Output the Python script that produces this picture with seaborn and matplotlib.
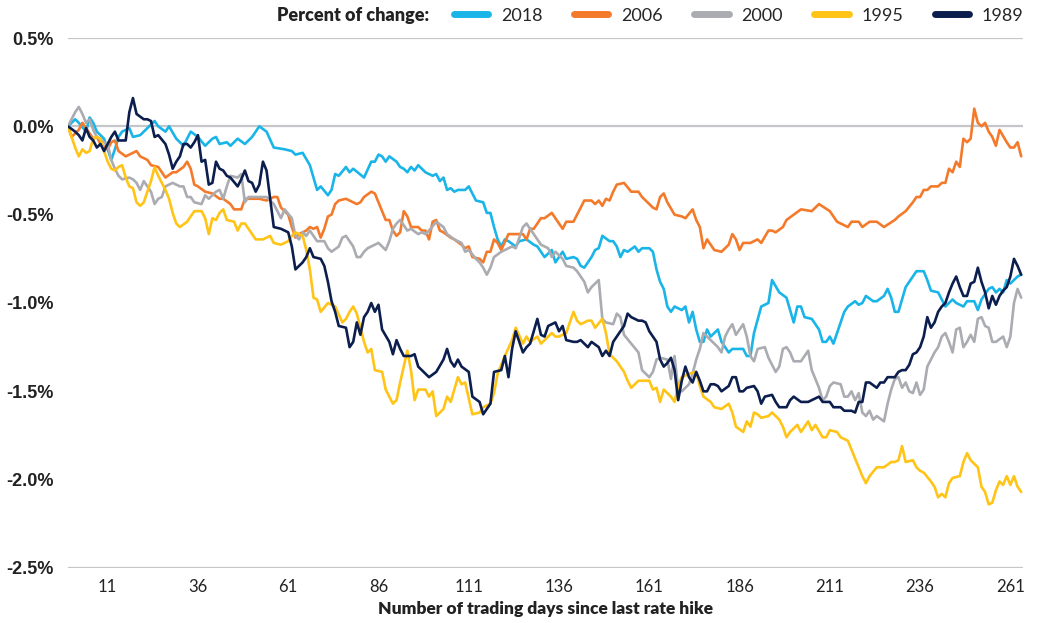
import numpy as np
import pandas as pd
from matplotlib import pyplot as plt
from matplotlib.lines import Line2D
from matplotlib.ticker import FuncFormatter
import seaborn as sns


"""Values read off the reference chart: trading day -> percent change"""
days_2018 = [0, 2, 3, 5, 6, 7, 8, 10, 12, 13, 14, 15, 17, 18, 20, 22, 24, 25, 27, 28, 30, 32, 34, 36, 38,
             40, 41, 42, 44, 45, 47, 49, 51, 53, 55, 57, 60, 62, 63, 65, 67, 69, 70, 72, 73, 74, 75, 77, 78,
             79, 82, 84, 85, 86, 87, 88, 89, 91, 92, 93, 94, 95, 96, 97, 99, 101, 102, 103, 104, 105, 106,
             107, 108, 110, 111, 113, 115, 116, 117, 118, 119, 120, 121, 122, 124, 125, 127, 129, 130, 132,
             134, 135, 136, 137, 138, 140, 141, 142, 143, 145, 146, 147, 148, 150, 151, 152, 153, 154, 155,
             157, 158, 159, 161, 162, 163, 164, 165, 166, 167, 168, 170, 171, 172, 173, 174, 175, 176, 177,
             178, 180, 181, 183, 184, 185, 187, 188, 189, 190, 192, 194, 195, 197, 199, 200, 201, 202, 203,
             204, 206, 208, 209, 210, 211, 212, 213, 215, 216, 218, 219, 220, 221, 223, 224, 226, 227, 228,
             229, 230, 231, 232, 234, 235, 237, 238, 239, 241, 242, 243, 245, 246, 248, 249, 251, 252, 253,
             255, 256, 257, 258, 259, 260, 261, 262, 263, 264]
vals_2018 = [0.00, 0.04, 0.02, -0.03, 0.05, 0.02, -0.03, -0.07, -0.19, -0.13, -0.06, -0.03, -0.01, -0.06,
             -0.05, -0.01, 0.03, 0.00, -0.03, 0.00, -0.07, -0.11, -0.03, -0.06, -0.11, -0.07, -0.06, -0.10,
             -0.09, -0.11, -0.07, -0.10, -0.06, 0.00, -0.03, -0.12, -0.13, -0.14, -0.16, -0.15, -0.22, -0.36,
             -0.34, -0.39, -0.36, -0.27, -0.28, -0.23, -0.26, -0.24, -0.29, -0.20, -0.20, -0.16, -0.17, -0.20,
             -0.17, -0.20, -0.23, -0.24, -0.26, -0.23, -0.25, -0.22, -0.26, -0.28, -0.27, -0.31, -0.29, -0.36,
             -0.35, -0.37, -0.36, -0.36, -0.34, -0.42, -0.43, -0.49, -0.49, -0.57, -0.64, -0.68, -0.64, -0.65,
             -0.68, -0.65, -0.64, -0.67, -0.68, -0.74, -0.70, -0.77, -0.74, -0.71, -0.75, -0.74, -0.75, -0.79,
             -0.80, -0.74, -0.70, -0.69, -0.62, -0.65, -0.65, -0.68, -0.74, -0.70, -0.71, -0.68, -0.71, -0.69,
             -0.69, -0.71, -0.81, -0.88, -0.92, -1.02, -1.05, -1.02, -1.04, -1.02, -1.11, -1.05, -1.15, -1.22,
             -1.22, -1.15, -1.19, -1.15, -1.22, -1.28, -1.26, -1.26, -1.26, -1.30, -1.30, -1.17, -1.02, -1.00,
             -0.87, -0.94, -0.97, -1.04, -1.11, -1.02, -1.02, -1.08, -1.09, -1.15, -1.22, -1.22, -1.19, -1.23,
             -1.17, -1.05, -1.02, -0.99, -1.01, -1.00, -0.96, -0.99, -0.99, -0.96, -0.92, -0.97, -1.05, -1.05,
             -0.98, -0.91, -0.85, -0.82, -0.82, -0.87, -0.93, -0.94, -0.98, -1.02, -0.98, -1.00, -1.02, -0.99,
             -0.99, -1.04, -0.98, -0.92, -0.91, -0.94, -0.92, -0.94, -0.87, -0.89, -0.87, -0.85, -0.84]

days_2006 = [0, 1, 3, 4, 5, 7, 8, 9, 11, 12, 13, 14, 16, 18, 19, 20, 22, 23, 25, 26, 27, 29, 30, 32, 33,
             34, 35, 36, 38, 40, 42, 43, 45, 46, 48, 49, 51, 53, 55, 57, 58, 59, 61, 62, 63, 64, 66, 67, 68,
             69, 70, 71, 72, 73, 74, 75, 77, 78, 80, 81, 82, 84, 85, 86, 87, 88, 89, 90, 91, 92, 93, 94, 95,
             97, 98, 99, 100, 101, 102, 103, 104, 106, 107, 109, 110, 111, 112, 114, 115, 116, 117, 118, 119,
             120, 122, 123, 124, 126, 127, 128, 129, 131, 132, 134, 135, 137, 138, 140, 141, 143, 145, 146,
             147, 148, 149, 150, 151, 152, 154, 156, 158, 159, 160, 162, 163, 164, 165, 166, 168, 170, 171,
             173, 174, 175, 176, 177, 178, 179, 181, 183, 184, 185, 186, 187, 189, 191, 192, 194, 195, 196,
             198, 199, 201, 203, 206, 208, 211, 213, 216, 217, 219, 220, 222, 224, 226, 229, 230, 232, 234,
             235, 236, 237, 238, 239, 241, 242, 243, 244, 245, 246, 247, 248, 249, 250, 251, 252, 253, 254,
             255, 256, 257, 258, 260, 261, 262, 263, 264]
vals_2006 = [0.00, -0.06, -0.02, 0.02, -0.01, -0.07, -0.06, -0.10, -0.13, -0.09, -0.08, -0.14, -0.17, -0.15,
             -0.14, -0.17, -0.19, -0.22, -0.23, -0.26, -0.29, -0.26, -0.26, -0.23, -0.20, -0.24, -0.33, -0.34,
             -0.37, -0.38, -0.41, -0.41, -0.44, -0.47, -0.47, -0.41, -0.41, -0.41, -0.42, -0.40, -0.40, -0.46,
             -0.50, -0.57, -0.63, -0.61, -0.59, -0.57, -0.58, -0.57, -0.63, -0.58, -0.51, -0.50, -0.44, -0.42,
             -0.41, -0.42, -0.44, -0.43, -0.40, -0.37, -0.38, -0.43, -0.48, -0.53, -0.53, -0.59, -0.62, -0.60,
             -0.48, -0.51, -0.57, -0.57, -0.59, -0.59, -0.64, -0.54, -0.53, -0.59, -0.60, -0.63, -0.64, -0.67,
             -0.69, -0.68, -0.74, -0.75, -0.77, -0.71, -0.71, -0.64, -0.66, -0.70, -0.61, -0.61, -0.61, -0.61,
             -0.64, -0.58, -0.58, -0.52, -0.52, -0.49, -0.52, -0.58, -0.54, -0.54, -0.50, -0.42, -0.42, -0.44,
             -0.42, -0.45, -0.41, -0.42, -0.37, -0.33, -0.32, -0.37, -0.37, -0.40, -0.42, -0.46, -0.47, -0.40,
             -0.38, -0.43, -0.50, -0.51, -0.52, -0.47, -0.53, -0.57, -0.69, -0.64, -0.67, -0.70, -0.71, -0.67,
             -0.61, -0.64, -0.70, -0.66, -0.66, -0.64, -0.66, -0.59, -0.59, -0.60, -0.57, -0.53, -0.50, -0.47,
             -0.48, -0.44, -0.48, -0.54, -0.57, -0.54, -0.54, -0.57, -0.54, -0.54, -0.57, -0.53, -0.51, -0.48,
             -0.43, -0.40, -0.40, -0.36, -0.36, -0.34, -0.34, -0.32, -0.32, -0.24, -0.26, -0.20, -0.23, -0.07,
             -0.09, -0.07, 0.10, 0.02, 0.00, 0.02, -0.03, -0.06, -0.11, -0.02, -0.09, -0.12, -0.12, -0.09, -0.17]

days_2000 = [0, 2, 3, 4, 5, 6, 7, 8, 10, 11, 12, 13, 14, 15, 17, 18, 19, 20, 21, 23, 24, 25, 26, 27, 29,
             30, 31, 32, 33, 34, 35, 37, 38, 39, 41, 42, 43, 44, 45, 47, 48, 49, 50, 51, 53, 55, 57, 59, 60,
             62, 63, 64, 65, 66, 67, 68, 69, 71, 72, 73, 75, 76, 77, 79, 80, 81, 82, 83, 84, 86, 87, 88, 89,
             90, 91, 92, 94, 95, 97, 98, 99, 100, 102, 104, 105, 107, 109, 110, 111, 113, 114, 115, 116, 117,
             118, 120, 122, 123, 124, 126, 127, 128, 130, 131, 133, 134, 135, 137, 138, 140, 141, 143, 144,
             145, 147, 148, 149, 151, 152, 153, 154, 156, 158, 159, 160, 161, 162, 163, 164, 166, 167, 168,
             169, 170, 172, 173, 174, 175, 176, 177, 178, 180, 181, 182, 183, 184, 185, 187, 188, 189, 190,
             191, 193, 194, 196, 197, 198, 199, 200, 201, 203, 204, 205, 206, 208, 209, 210, 211, 212, 214,
             215, 216, 217, 218, 219, 220, 221, 222, 223, 224, 226, 227, 228, 229, 230, 231, 232, 233, 234,
             235, 236, 237, 238, 239, 240, 241, 242, 243, 244, 245, 246, 247, 248, 249, 250, 251, 252, 253,
             254, 255, 256, 257, 259, 260, 261, 262, 263, 264]
vals_2000 = [0.00, 0.08, 0.11, 0.07, 0.02, 0.04, -0.02, -0.06, -0.09, -0.10, -0.19, -0.24, -0.28, -0.30,
             -0.29, -0.30, -0.32, -0.36, -0.31, -0.37, -0.44, -0.41, -0.40, -0.34, -0.32, -0.33, -0.34, -0.34,
             -0.40, -0.40, -0.43, -0.44, -0.39, -0.41, -0.37, -0.36, -0.41, -0.34, -0.28, -0.29, -0.27, -0.43,
             -0.40, -0.40, -0.40, -0.40, -0.44, -0.52, -0.47, -0.52, -0.62, -0.64, -0.60, -0.62, -0.59, -0.62,
             -0.65, -0.65, -0.69, -0.71, -0.68, -0.63, -0.62, -0.68, -0.74, -0.74, -0.71, -0.69, -0.68, -0.66,
             -0.68, -0.70, -0.65, -0.58, -0.55, -0.53, -0.59, -0.58, -0.61, -0.60, -0.61, -0.59, -0.54, -0.57,
             -0.61, -0.64, -0.66, -0.71, -0.70, -0.75, -0.77, -0.80, -0.84, -0.80, -0.74, -0.71, -0.69, -0.68,
             -0.69, -0.57, -0.55, -0.58, -0.64, -0.67, -0.69, -0.74, -0.71, -0.75, -0.79, -0.80, -0.82, -0.88,
             -0.94, -0.91, -0.87, -1.09, -1.11, -1.12, -1.06, -1.08, -1.18, -1.23, -1.28, -1.38, -1.40, -1.42,
             -1.39, -1.32, -1.31, -1.32, -1.43, -1.30, -1.49, -1.50, -1.46, -1.40, -1.32, -1.26, -1.17, -1.19,
             -1.21, -1.25, -1.28, -1.19, -1.15, -1.12, -1.18, -1.12, -1.19, -1.30, -1.33, -1.26, -1.25, -1.31,
             -1.39, -1.36, -1.26, -1.25, -1.28, -1.33, -1.33, -1.30, -1.27, -1.38, -1.48, -1.55, -1.53, -1.47,
             -1.45, -1.46, -1.53, -1.53, -1.50, -1.55, -1.51, -1.62, -1.64, -1.61, -1.66, -1.64, -1.67, -1.57,
             -1.49, -1.43, -1.42, -1.48, -1.45, -1.50, -1.51, -1.45, -1.52, -1.49, -1.36, -1.32, -1.28, -1.25,
             -1.19, -1.17, -1.22, -1.28, -1.15, -1.14, -1.25, -1.22, -1.18, -1.22, -1.09, -1.08, -1.13, -1.14,
             -1.22, -1.22, -1.19, -1.25, -1.19, -1.00, -0.92, -0.97]

days_1995 = [0, 1, 2, 3, 4, 5, 6, 7, 8, 9, 10, 11, 12, 13, 14, 15, 16, 17, 18, 19, 20, 21, 22, 23, 24,
             25, 27, 28, 29, 30, 31, 33, 34, 35, 37, 38, 39, 40, 41, 42, 43, 44, 46, 47, 48, 49, 50, 52, 54,
             56, 57, 59, 61, 62, 63, 65, 66, 67, 68, 69, 70, 72, 73, 74, 76, 77, 78, 79, 80, 82, 83, 84, 85,
             87, 88, 90, 91, 92, 94, 95, 96, 97, 99, 100, 101, 102, 104, 105, 106, 108, 109, 110, 112, 114,
             115, 117, 118, 119, 121, 123, 124, 126, 127, 128, 130, 131, 134, 135, 136, 138, 140, 141, 142,
             144, 145, 146, 148, 149, 150, 151, 152, 154, 155, 156, 158, 159, 161, 162, 163, 164, 165, 167,
             168, 169, 170, 172, 174, 175, 176, 178, 179, 181, 183, 184, 185, 187, 188, 189, 190, 191, 192,
             194, 195, 197, 198, 199, 200, 202, 203, 205, 206, 207, 209, 210, 211, 213, 214, 216, 217, 219,
             220, 221, 222, 224, 225, 226, 228, 229, 230, 231, 232, 234, 235, 236, 237, 239, 240, 241, 242,
             243, 244, 245, 247, 248, 249, 250, 251, 252, 253, 254, 255, 256, 257, 258, 259, 260, 261, 262,
             263, 264]
vals_1995 = [0.00, -0.06, -0.12, -0.17, -0.13, -0.15, -0.14, -0.07, -0.06, -0.07, -0.14, -0.20, -0.24, -0.25,
             -0.23, -0.22, -0.29, -0.34, -0.35, -0.43, -0.45, -0.43, -0.37, -0.31, -0.23, -0.28, -0.36, -0.41,
             -0.49, -0.55, -0.57, -0.54, -0.51, -0.48, -0.48, -0.52, -0.61, -0.52, -0.53, -0.49, -0.47, -0.53,
             -0.54, -0.59, -0.55, -0.55, -0.58, -0.64, -0.64, -0.62, -0.66, -0.67, -0.65, -0.62, -0.60, -0.62,
             -0.70, -0.81, -0.97, -0.98, -1.05, -1.00, -1.01, -1.02, -1.11, -1.09, -1.05, -1.02, -1.06, -1.22,
             -1.28, -1.26, -1.38, -1.39, -1.49, -1.57, -1.55, -1.45, -1.27, -1.38, -1.55, -1.49, -1.49, -1.53,
             -1.50, -1.64, -1.60, -1.53, -1.56, -1.42, -1.46, -1.45, -1.63, -1.62, -1.59, -1.57, -1.51, -1.40,
             -1.30, -1.21, -1.14, -1.23, -1.19, -1.22, -1.19, -1.23, -1.17, -1.19, -1.19, -1.17, -1.05, -1.10,
             -1.12, -1.10, -1.10, -1.14, -1.09, -1.17, -1.29, -1.31, -1.33, -1.39, -1.44, -1.48, -1.44, -1.44,
             -1.44, -1.49, -1.48, -1.56, -1.49, -1.53, -1.56, -1.47, -1.42, -1.40, -1.39, -1.47, -1.53, -1.56,
             -1.59, -1.60, -1.57, -1.62, -1.70, -1.73, -1.67, -1.70, -1.62, -1.63, -1.65, -1.64, -1.62, -1.66,
             -1.70, -1.76, -1.73, -1.69, -1.73, -1.67, -1.72, -1.69, -1.76, -1.76, -1.72, -1.73, -1.76, -1.78,
             -1.83, -1.93, -1.98, -2.02, -1.98, -1.93, -1.93, -1.93, -1.90, -1.90, -1.89, -1.81, -1.90, -1.89,
             -1.93, -1.95, -1.96, -2.01, -2.04, -2.10, -2.08, -2.10, -2.02, -1.99, -1.98, -1.90, -1.85, -1.89,
             -1.91, -1.93, -2.04, -2.07, -2.14, -2.13, -2.06, -2.01, -2.03, -1.98, -2.03, -1.98, -2.04, -2.07]

days_1989 = [0, 2, 3, 4, 5, 6, 7, 8, 9, 10, 11, 12, 13, 14, 16, 17, 18, 19, 21, 22, 23, 24, 25, 27, 28,
             29, 30, 31, 32, 33, 34, 35, 36, 37, 38, 39, 40, 41, 42, 43, 44, 45, 47, 48, 49, 50, 51, 52, 53,
             54, 55, 57, 59, 61, 62, 63, 65, 66, 67, 68, 70, 71, 72, 73, 74, 75, 77, 78, 79, 80, 81, 82, 83,
             84, 85, 86, 87, 89, 90, 91, 92, 93, 95, 96, 97, 99, 100, 102, 104, 105, 106, 107, 108, 109, 111,
             112, 114, 115, 116, 117, 118, 120, 121, 122, 123, 124, 125, 126, 127, 128, 130, 131, 132, 133,
             135, 136, 137, 138, 140, 141, 142, 144, 145, 147, 148, 149, 150, 151, 152, 154, 155, 156, 158,
             159, 160, 161, 163, 164, 165, 166, 167, 168, 169, 170, 171, 172, 173, 174, 175, 176, 177, 178,
             179, 180, 181, 183, 184, 185, 186, 187, 188, 190, 191, 192, 193, 195, 196, 197, 199, 200, 201,
             203, 204, 205, 206, 208, 209, 210, 211, 212, 214, 215, 217, 218, 219, 220, 221, 222, 224, 225,
             226, 227, 229, 230, 231, 232, 233, 234, 235, 236, 237, 238, 239, 240, 241, 242, 243, 244, 245,
             246, 247, 248, 249, 250, 251, 252, 253, 254, 255, 256, 257, 258, 259, 260, 261, 262, 263, 264]
vals_1989 = [0.00, -0.03, -0.05, -0.08, -0.01, -0.06, -0.08, -0.12, -0.10, -0.14, -0.10, -0.06, -0.03, -0.08,
             -0.08, 0.08, 0.16, 0.07, 0.04, 0.04, 0.03, -0.06, -0.05, -0.10, -0.16, -0.24, -0.20, -0.17, -0.10,
             -0.10, -0.12, -0.09, -0.05, -0.20, -0.19, -0.33, -0.32, -0.20, -0.24, -0.25, -0.28, -0.29, -0.34,
             -0.30, -0.25, -0.31, -0.32, -0.37, -0.33, -0.20, -0.25, -0.57, -0.58, -0.60, -0.68, -0.81, -0.77,
             -0.74, -0.69, -0.74, -0.75, -0.79, -0.88, -0.99, -1.05, -1.13, -1.14, -1.25, -1.22, -1.11, -1.18,
             -1.08, -1.05, -1.00, -1.05, -1.01, -1.15, -1.22, -1.29, -1.21, -1.26, -1.30, -1.30, -1.29, -1.36,
             -1.40, -1.42, -1.39, -1.32, -1.26, -1.33, -1.36, -1.32, -1.36, -1.39, -1.53, -1.56, -1.63, -1.60,
             -1.57, -1.39, -1.38, -1.30, -1.42, -1.26, -1.16, -1.22, -1.28, -1.25, -1.23, -1.09, -1.18, -1.19,
             -1.13, -1.11, -1.16, -1.13, -1.21, -1.22, -1.22, -1.21, -1.25, -1.22, -1.25, -1.30, -1.27, -1.30,
             -1.22, -1.19, -1.13, -1.06, -1.08, -1.10, -1.10, -1.11, -1.16, -1.22, -1.32, -1.36, -1.34, -1.31,
             -1.38, -1.55, -1.44, -1.36, -1.42, -1.45, -1.39, -1.44, -1.50, -1.50, -1.46, -1.46, -1.47, -1.50,
             -1.47, -1.42, -1.42, -1.50, -1.50, -1.48, -1.47, -1.50, -1.57, -1.53, -1.52, -1.56, -1.59, -1.59,
             -1.55, -1.53, -1.56, -1.56, -1.56, -1.55, -1.53, -1.56, -1.56, -1.56, -1.59, -1.59, -1.61, -1.61,
             -1.62, -1.56, -1.56, -1.45, -1.45, -1.48, -1.45, -1.45, -1.42, -1.42, -1.39, -1.38, -1.38, -1.35,
             -1.29, -1.28, -1.25, -1.19, -1.08, -1.14, -1.11, -1.05, -1.02, -1.00, -0.94, -0.89, -0.85, -0.91,
             -0.96, -0.96, -0.89, -0.88, -0.80, -0.88, -0.94, -1.03, -0.96, -1.01, -0.96, -0.93, -0.91, -0.85,
             -0.75, -0.79, -0.84]

years = ['2018', '2006', '2000', '1995', '1989']
colors = ['#19B4E8', '#F47A2B', '#AAACB1', '#FFC416', '#0B1E4D']
x_ticks = [11, 36, 61, 86, 111, 136, 161, 186, 211, 236, 261]
y_ticks = [0.5, 0.0, -0.5, -1.0, -1.5, -2.0, -2.5]

series = {'2018': (days_2018, vals_2018), '2006': (days_2006, vals_2006),
          '2000': (days_2000, vals_2000), '1995': (days_1995, vals_1995),
          '1989': (days_1989, vals_1989)}

df = pd.concat([pd.DataFrame({'day': d, 'pct': v, 'year': y}) for y, (d, v) in series.items()],
               ignore_index=True)

sns.set_style('white')
plt.rcParams['font.family'] = ['Lato', 'DejaVu Sans']

fig = plt.figure(figsize=(10.39, 6.23), dpi=100)
ax = fig.add_axes([0.0654, 0.0883, 0.9192, 0.8507])

# reference lines at 0.5%, 0% and the -2.5% floor
for yv in (0.5, 0.0, -2.5):
    ax.axhline(yv, color='#C5C6CA', linewidth=1.6, zorder=0)

sns.lineplot(data=df, x='day', y='pct', hue='year', hue_order=years,
             palette=dict(zip(years, colors)), estimator=None, sort=False,
             linewidth=1.9, legend=False, ax=ax)

ax.set_xlim(0, 264.5)
ax.set_ylim(-2.5, 0.5)
ax.set_xticks(x_ticks)
ax.set_yticks(y_ticks)
ax.yaxis.set_major_formatter(FuncFormatter(lambda v, _: f'{v:.1f}%'))
ax.tick_params(length=0)
ax.tick_params(axis='x', pad=8, labelsize=12, labelcolor='#222222')
ax.tick_params(axis='y', pad=10, labelsize=13, labelcolor='#222222')
for lab in ax.get_yticklabels():
    lab.set_fontweight('bold')
    lab.set_family(['Liberation Sans', 'DejaVu Sans'])
sns.despine(ax=ax, left=True, bottom=True)

ax.set_xlabel('Number of trading days since last rate hike', fontsize=12.5,
              fontweight='heavy', color='#222222', labelpad=4)
ax.set_ylabel('')

handles = [Line2D([], [], color=c, linewidth=5, solid_capstyle='round') for c in colors]
fig.legend(handles, years, loc='center right', bbox_to_anchor=(0.985, 0.975), ncol=5,
           frameon=False, fontsize=13, handlelength=1.9, columnspacing=1.75,
           handletextpad=0.7, borderaxespad=0, borderpad=0)
fig.text(0.413, 0.975, 'Percent of change:', ha='right', va='center', fontsize=13,
         fontweight='heavy', color='#222222')

fig.savefig('out.png', dpi=100)
